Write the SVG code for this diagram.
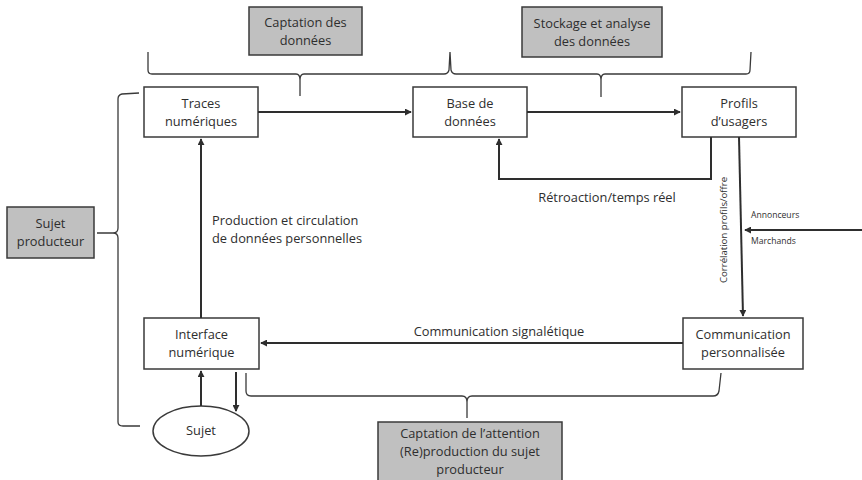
<svg xmlns="http://www.w3.org/2000/svg" width="862" height="480" viewBox="0 0 862 480">
<style>
.box{fill:#fff;stroke:#3a3a3a;stroke-width:1.5}
.gbox{fill:#c0c0c0;stroke:#3a3a3a;stroke-width:1.5}
.t{font-family:"Open Sans","Liberation Sans",sans-serif;font-size:12.8px;fill:#2e2e2e;text-anchor:middle}
.s{font-family:"Open Sans","Liberation Sans",sans-serif;font-size:8.6px;fill:#2e2e2e}
.c{fill:none;stroke:#2e2e2e;stroke-width:2}
.br{fill:none;stroke:#3a3a3a;stroke-width:1.3}
</style>
<defs>
<marker id="a" viewBox="0 0 8 8" refX="7" refY="4" markerWidth="3.5" markerHeight="3.5" orient="auto" markerUnits="strokeWidth">
<path d="M0,0 L8,4 L0,8 z" fill="#2e2e2e"/>
</marker>
</defs>
<rect width="862" height="480" fill="#fff"/>

<g id="braces">
<path class="br" d="M148,52 L148,70 Q148,74 152,74 L296,74 Q300,74 300,80 L300,96 M300,80 Q300,74 304,74 L444,74 Q448,74 449,70 L450,52 M450,52 L451,70 Q452,74 456,74 L597,74 Q601,74 601,80 L601,97 M601,80 Q601,74 605,74 L746,74 Q750,74 750,70 L751,52"/>
<path class="br" d="M139,93 L122,94 Q118,95 118,99 L118,228 Q118,233 113,233 L97,233 M113,233 Q118,233 118,238 L118,422 Q118,426 123,426 L140,426"/>
<path class="br" d="M246,373 L246,391 Q246,396 251,396 L462,396 Q467,396 467,402 L467,418 M467,402 Q467,396 472,396 L713,396 Q718,396 719,391 L721,373"/>
</g>

<g id="n-captation">
<rect class="gbox" x="249" y="7" width="113" height="48"/>
<text class="t" x="305.5" y="27">Captation des</text>
<text class="t" x="305.5" y="45">données</text>
</g>
<g id="n-stockage">
<rect class="gbox" x="522" y="7" width="140" height="50"/>
<text class="t" x="592" y="28">Stockage et analyse</text>
<text class="t" x="592" y="46">des données</text>
</g>
<g id="n-sujetprod">
<rect class="gbox" x="7" y="207" width="87" height="51"/>
<text class="t" x="50.5" y="228">Sujet</text>
<text class="t" x="50.5" y="246">producteur</text>
</g>
<g id="n-attention">
<rect class="gbox" x="378" y="422" width="184" height="62"/>
<text class="t" x="470" y="438">Captation de l’attention</text>
<text class="t" x="470" y="456">(Re)production du sujet</text>
<text class="t" x="470" y="474">producteur</text>
</g>

<g id="n-traces">
<rect class="box" x="144" y="87" width="114" height="50"/>
<text class="t" x="201" y="108">Traces</text>
<text class="t" x="201" y="126">numériques</text>
</g>
<g id="n-base">
<rect class="box" x="413" y="87" width="114" height="50"/>
<text class="t" x="470" y="108">Base de</text>
<text class="t" x="470" y="126">données</text>
</g>
<g id="n-profils">
<rect class="box" x="682" y="87" width="114" height="50"/>
<text class="t" x="739" y="108">Profils</text>
<text class="t" x="739" y="126">d’usagers</text>
</g>
<g id="n-interface">
<rect class="box" x="144" y="318" width="115" height="51"/>
<text class="t" x="201.5" y="339">Interface</text>
<text class="t" x="201.5" y="357">numérique</text>
</g>
<g id="n-comm">
<rect class="box" x="683" y="318" width="120" height="51"/>
<text class="t" x="743" y="339">Communication</text>
<text class="t" x="743" y="357">personnalisée</text>
</g>
<g id="n-sujet">
<ellipse class="box" cx="201" cy="431" rx="48" ry="25"/>
<text class="t" x="201" y="435">Sujet</text>
</g>

<g id="connectors">
<path class="c" d="M258,112 L411,112" marker-end="url(#a)"/>
<path class="c" d="M527,112 L680,112" marker-end="url(#a)"/>
<path class="c" d="M711,137 L711,179 L499,179 L499,139" marker-end="url(#a)"/>
<path class="c" d="M739,137 L743,316" marker-end="url(#a)"/>
<path class="c" d="M862,230 L745,230" marker-end="url(#a)"/>
<path class="c" d="M683,343 L261,343" marker-end="url(#a)"/>
<path class="c" d="M201,318 L201,139" marker-end="url(#a)"/>
<path class="c" d="M201,406 L201,371" marker-end="url(#a)"/>
<path class="c" d="M236,372 L236,411" marker-end="url(#a)"/>
</g>

<g id="labels">
<text class="t" x="607" y="202">Rétroaction/temps réel</text>
<text class="t" x="212" y="225" style="text-anchor:start">Production et circulation</text>
<text class="t" x="212" y="243" style="text-anchor:start">de données personnelles</text>
<text class="t" x="499" y="336">Communication signalétique</text>
<text class="s" x="751" y="218">Annonceurs</text>
<text class="s" x="751" y="244">Marchands</text>
<text class="s" transform="translate(727,230) rotate(-90)" style="text-anchor:middle;font-size:9.6px">Corrélation profils/offre</text>
</g>
</svg>
